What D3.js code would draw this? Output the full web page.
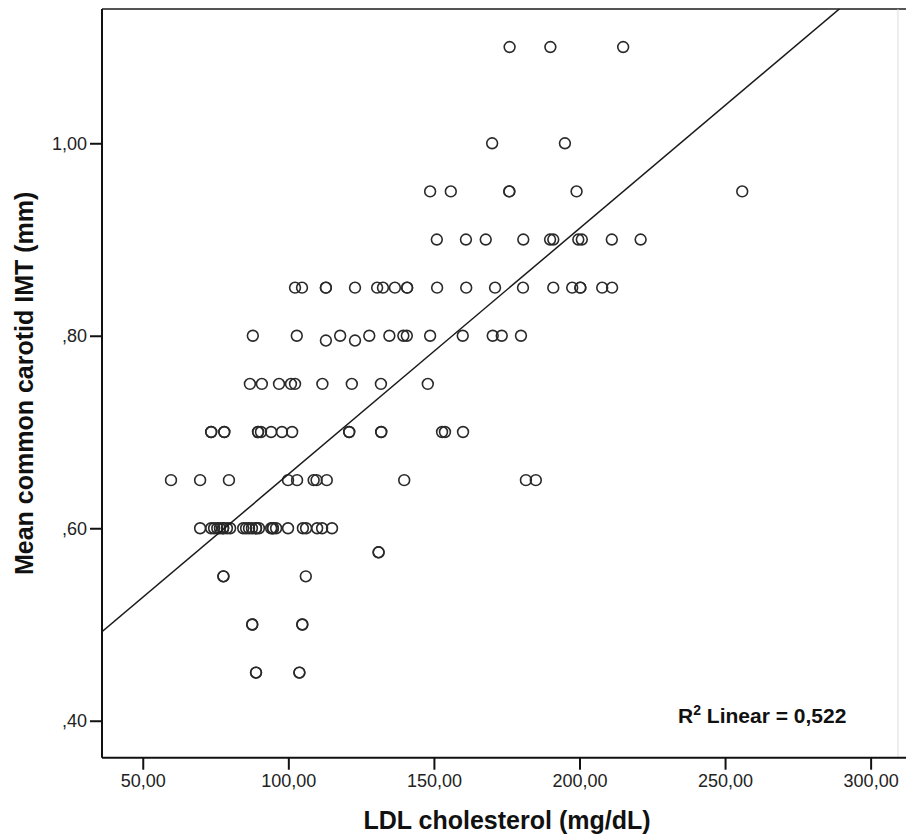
<!DOCTYPE html>
<html>
<head>
<meta charset="utf-8">
<script src="https://cdn.jsdelivr.net/npm/d3@7"></script>
<style>
  body { margin: 0; background: #fff; }
  text { font-family: "Liberation Sans", Arial, sans-serif; }
</style>
</head>
<body>
<svg id="chart"></svg>
<script>
// IMT level of each row of points, and the LDL values found on that row
const imtRows = [1.10, 1.00, 0.95, 0.90, 0.85, 0.80, 0.795, 0.75, 0.70, 0.65, 0.60, 0.575, 0.55, 0.50, 0.45];
const ldlRows = [
  [176, 190, 215],
  [170, 195],
  [148.7, 155.8, 175.9, 175.9, 199.0, 255.9],
  [151.0, 161.0, 167.8, 180.7, 189.9, 191.0, 199.6, 200.8, 211.1, 221.0],
  [102.3, 104.7, 112.9, 112.9, 122.9, 130.5, 132.5, 136.6, 140.8, 140.8, 151.1, 161.1, 171.0, 180.6, 191.0, 197.5, 200.3, 200.3, 207.8, 211.2],
  [87.8, 102.9, 117.8, 127.8, 134.7, 139.5, 140.7, 148.7, 159.9, 170.2, 173.3, 179.9],
  [112.9, 122.9],
  [86.8, 90.9, 96.8, 100.9, 102.3, 111.7, 121.8, 131.8, 147.9],
  [73.5, 73.5, 78.0, 78.0, 89.6, 89.6, 90.6, 94.1, 97.8, 101.3, 120.9, 120.9, 131.9, 131.9, 152.8, 153.8, 160.0],
  [59.7, 69.7, 79.6, 99.9, 103.0, 108.7, 109.7, 113.2, 139.8, 181.6, 185.0],
  [69.7, 73.5, 74.5, 75.6, 76.5, 77.6, 77.6, 78.9, 80.0, 84.5, 85.5, 86.5, 87.5, 88.9, 88.9, 89.9, 94.1, 94.7, 94.7, 95.8, 99.9, 105.0, 106.1, 109.9, 111.6, 115.0],
  [131.0, 131.0],
  [77.7, 77.7, 106.0],
  [87.6, 87.6, 104.8, 104.8],
  [88.9, 88.9, 103.8, 103.8]
];

const xTicks = [50, 100, 150, 200, 250, 300];
const yTicks = [0.40, 0.60, 0.80, 1.00];

// fitted line
const fitIntercept = 0.4005;
const fitSlope = 0.002555;
const rSquared = "0,522";

const width = 906;
const height = 835;
const plotLeft = 102, plotRight = 898, plotTop = 9, plotBottom = 757.7;

const points = [];
imtRows.forEach((imt, i) => {
  ldlRows[i].forEach(ldl => points.push({ ldl: ldl, imt: imt }));
});

const x = d3.scaleLinear()
    .domain([36.0, 309.4])
    .range([plotLeft, plotRight]);

const y = d3.scaleLinear()
    .domain([0.3616, 1.1395])
    .range([plotBottom, plotTop]);

const svg = d3.select("#chart")
    .attr("width", width)
    .attr("height", height);

svg.append("defs")
  .append("clipPath")
    .attr("id", "plot-clip")
  .append("rect")
    .attr("x", plotLeft)
    .attr("y", plotTop)
    .attr("width", plotRight - plotLeft)
    .attr("height", plotBottom - plotTop);

// frame top and right
svg.append("line")
    .attr("x1", plotLeft).attr("x2", width)
    .attr("y1", plotTop).attr("y2", plotTop)
    .attr("stroke", "#555")
    .attr("stroke-width", 2);

svg.append("line")
    .attr("x1", plotRight).attr("x2", plotRight)
    .attr("y1", plotTop).attr("y2", plotBottom)
    .attr("stroke", "#ddd")
    .attr("stroke-width", 1);

// points
svg.append("g")
  .selectAll("circle")
  .data(points)
  .join("circle")
    .attr("cx", d => x(d.ldl))
    .attr("cy", d => y(d.imt))
    .attr("r", 5.4)
    .attr("fill", "none")
    .attr("stroke", "#2a2a2a")
    .attr("stroke-width", 1.6);

// fit line
const xDomain = x.domain();
svg.append("line")
    .attr("clip-path", "url(#plot-clip)")
    .attr("x1", x(xDomain[0]))
    .attr("y1", y(fitIntercept + fitSlope * xDomain[0]))
    .attr("x2", x(xDomain[1]))
    .attr("y2", y(fitIntercept + fitSlope * xDomain[1]))
    .attr("stroke", "#1a1a1a")
    .attr("stroke-width", 1.5);

// axes
const commaFormat = d => d3.format(".2f")(d).replace(".", ",");

const xAxis = svg.append("g")
    .attr("transform", `translate(0,${plotBottom})`)
    .call(d3.axisBottom(x)
      .tickValues(xTicks)
      .tickSize(12)
      .tickSizeOuter(0)
      .tickPadding(5)
      .tickFormat(commaFormat));

const yAxis = svg.append("g")
    .attr("transform", `translate(${plotLeft},0)`)
    .call(d3.axisLeft(y)
      .tickValues(yTicks)
      .tickSize(12)
      .tickSizeOuter(0)
      .tickPadding(3)
      .tickFormat(d => commaFormat(d).replace(/^0/, "")));

[xAxis, yAxis].forEach(ax => {
  ax.select(".domain").attr("stroke", "#111").attr("stroke-width", 2);
  ax.selectAll(".tick line").attr("stroke", "#111").attr("stroke-width", 2);
  ax.selectAll(".tick text")
      .attr("fill", "#222")
      .style("font-size", "18px")
      .style("font-family", "'Liberation Sans', Arial, sans-serif");
});

// extend x axis line to the plot's right side
xAxis.select(".domain").attr("d", `M${plotLeft},0H${width}`);
yAxis.select(".domain").attr("d", `M0,${plotTop}V${plotBottom}`);

// axis titles
svg.append("text")
    .attr("x", 507)
    .attr("y", 829)
    .attr("text-anchor", "middle")
    .attr("font-size", 25)
    .attr("font-weight", "bold")
    .attr("fill", "#111")
    .text("LDL cholesterol (mg/dL)");

svg.append("text")
    .attr("transform", `translate(33,${(plotTop + plotBottom) / 2}) rotate(-90)`)
    .attr("text-anchor", "middle")
    .attr("font-size", 25)
    .attr("font-weight", "bold")
    .attr("fill", "#111")
    .text("Mean common carotid IMT (mm)");

// R squared label
const r2 = svg.append("text")
    .attr("x", 678)
    .attr("y", 723)
    .attr("font-size", 21)
    .attr("font-weight", "bold")
    .attr("fill", "#111");
r2.append("tspan").text("R");
r2.append("tspan").attr("dy", -8).attr("font-size", 14).text("2");
r2.append("tspan").attr("dy", 8).text(" Linear = " + rSquared);
</script>
</body>
</html>
